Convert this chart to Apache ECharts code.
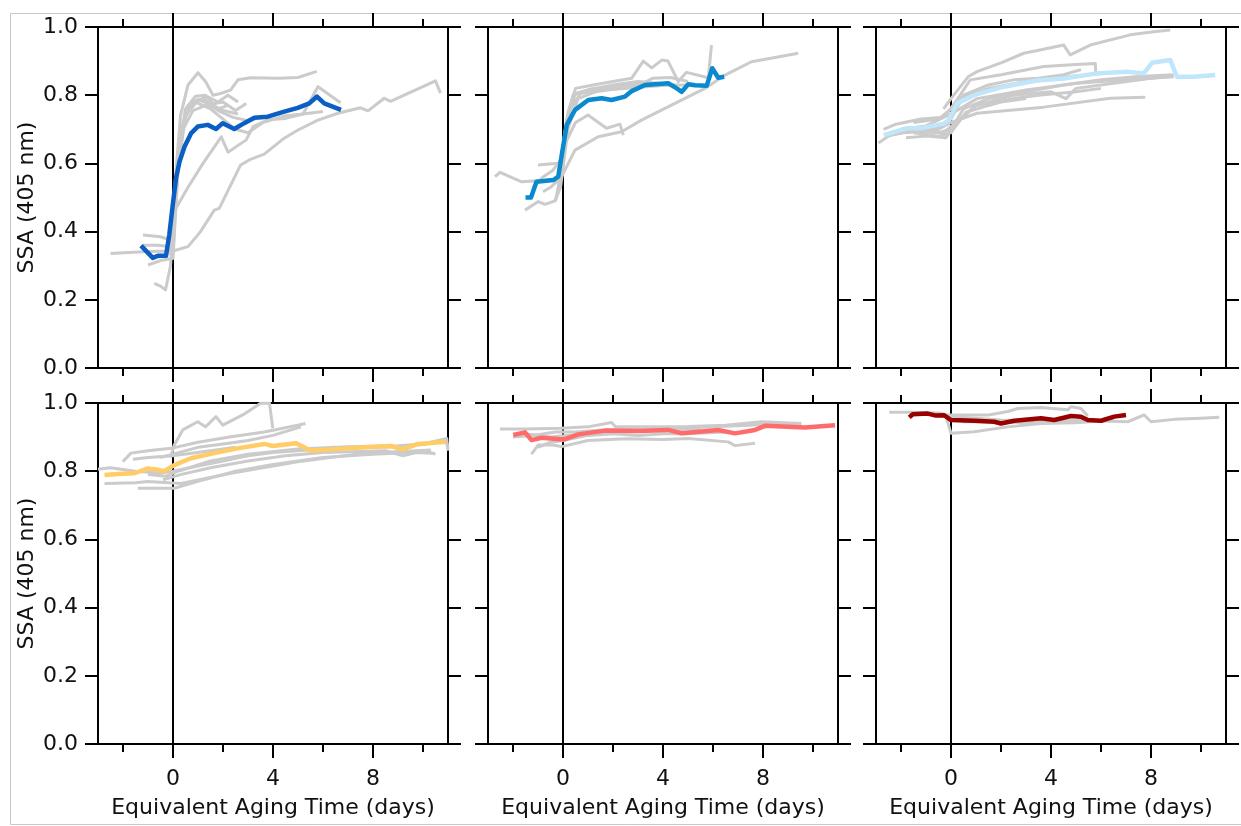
<!DOCTYPE html>
<html>
<head>
<meta charset="utf-8">
<script src="https://cdn.jsdelivr.net/npm/echarts@6/dist/echarts.min.js"></script>
<style>
html,body{margin:0;padding:0;background:#fff;}
#chart{width:1241px;height:826px;}
</style>
</head>
<body>
<div id="chart"></div>
<script>
// ---------- tick labels / axis texts ----------
var xMajorTicks = [0, 4, 8];
var xMinorTicks = [-2, 2, 6, 10];
var xTitle = 'Equivalent Aging Time (days)';
var yTitle = 'SSA (405 nm)';

// ---------- data: [days, SSA] ----------
var p1Main = [[-1.28,0.359],[-0.81,0.323],[-0.61,0.329],[-0.28,0.329],[-0.15,0.39],[-0.01,0.478],[0.12,0.556],[0.26,0.605],[0.46,0.649],[0.72,0.688],[0.99,0.708],[1.39,0.713],[1.72,0.701],[1.99,0.718],[2.45,0.701],[2.85,0.718],[3.25,0.734],[3.79,0.737],[4.45,0.752],[4.99,0.763],[5.45,0.776],[5.76,0.796],[6.05,0.776],[6.72,0.757]];
var p1Gray = [
 [[-2.5,0.336],[-1.0,0.342],[0,0.343],[0.6,0.356],[1.1,0.40],[1.65,0.463],[1.85,0.468],[2.7,0.595],[3.1,0.612],[3.65,0.627],[4.45,0.674],[5.0,0.698],[5.8,0.727],[6.6,0.747],[7.5,0.763],[7.8,0.754],[8.45,0.791],[8.7,0.782],[10.5,0.842],[10.7,0.806]],
 [[-0.1,0.34],[0.1,0.56],[0.3,0.74],[0.6,0.83],[1.0,0.866],[1.3,0.84],[1.6,0.80],[1.9,0.805],[2.3,0.815],[2.6,0.845],[3.1,0.851],[4.2,0.85],[5.0,0.852],[5.75,0.87]],
 [[-0.05,0.35],[0.2,0.62],[0.5,0.76],[0.9,0.797],[1.3,0.80],[1.6,0.775],[2.0,0.78],[2.5,0.755],[2.93,0.776]],
 [[0,0.34],[0.25,0.66],[0.6,0.77],[1.0,0.787],[1.4,0.775],[1.8,0.755],[2.4,0.735],[3.0,0.725],[3.3,0.73]],
 [[-0.1,0.33],[0.05,0.46],[0.6,0.53],[1.2,0.6],[1.93,0.678],[2.2,0.633],[2.93,0.669],[3.2,0.708],[3.8,0.728],[4.5,0.732],[5.2,0.745],[5.8,0.825],[6.7,0.778]],
 [[-1.2,0.39],[-0.5,0.385],[-0.1,0.375],[0.1,0.55],[0.4,0.72],[0.8,0.78],[1.2,0.79],[1.6,0.77],[2.0,0.755],[2.6,0.745]],
 [[-1.0,0.302],[-0.5,0.315],[0,0.322],[0.2,0.58],[0.5,0.74],[1.0,0.785],[1.4,0.795],[1.8,0.78],[2.2,0.80],[2.6,0.78]],
 [[-0.75,0.248],[-0.5,0.24],[-0.3,0.229],[-0.1,0.30],[0.1,0.52],[0.4,0.70],[0.8,0.755],[1.3,0.77],[1.8,0.76],[2.2,0.77]],
 [[-1.2,0.36],[-0.6,0.36],[0,0.355],[0.2,0.62],[0.5,0.75],[0.9,0.78],[1.5,0.76],[2.0,0.73],[2.5,0.70],[3.0,0.69],[3.6,0.72],[4.5,0.74],[5.2,0.745],[6.0,0.752]]
];

var p2Main = [[-1.5,0.50],[-1.28,0.50],[-1.06,0.546],[-0.39,0.551],[-0.19,0.561],[-0.05,0.625],[0.15,0.713],[0.48,0.757],[1.01,0.786],[1.55,0.791],[1.94,0.786],[2.48,0.796],[2.75,0.812],[3.28,0.83],[4.21,0.835],[4.55,0.82],[4.75,0.81],[5.01,0.832],[5.28,0.829],[5.75,0.828],[5.97,0.879],[6.21,0.851],[6.45,0.854]];
var p2Gray = [
 [[-2.72,0.561],[-2.52,0.574],[-1.65,0.546],[-0.6,0.551],[-0.1,0.555],[0.48,0.639],[1.41,0.678],[2.34,0.693],[3.14,0.727],[4.48,0.776],[5.68,0.82],[6.48,0.859],[7.54,0.898],[9.41,0.923]],
 [[-0.2,0.55],[0.1,0.66],[0.5,0.72],[1.0,0.742],[1.74,0.703],[2.28,0.715],[2.41,0.683]],
 [[-0.3,0.49],[0,0.6],[0.2,0.75],[0.5,0.82],[1.2,0.83],[2.0,0.84],[2.75,0.85],[3.21,0.90],[3.55,0.88],[3.95,0.903],[4.2,0.9],[4.61,0.84],[4.94,0.867],[5.81,0.851],[5.94,0.947]],
 [[-0.8,0.517],[-0.5,0.53],[-0.2,0.55],[0.1,0.70],[0.4,0.80],[1.0,0.815],[2.0,0.83],[3.0,0.84],[3.8,0.835],[4.5,0.83]],
 [[-1.0,0.595],[-0.3,0.60],[-0.1,0.60],[0.15,0.73],[0.5,0.805],[1.2,0.82],[2.2,0.826],[3.0,0.832],[3.6,0.828]],
 [[-1.52,0.463],[-0.99,0.488],[-0.72,0.48],[-0.32,0.49],[-0.1,0.53],[0.2,0.70],[0.6,0.79],[1.3,0.81],[2.3,0.82],[3.3,0.825],[4.3,0.83],[5.0,0.83]],
 [[-1.2,0.53],[-0.8,0.56],[-0.4,0.58],[0,0.62],[0.3,0.76],[0.7,0.805],[1.5,0.815],[2.5,0.82],[3.2,0.835],[3.6,0.85],[4.3,0.852],[5.0,0.84]]
];

var p3Main = [[-2.69,0.683],[-1.76,0.703],[-1.23,0.703],[-0.29,0.716],[-0.09,0.727],[0.24,0.776],[0.91,0.80],[2.11,0.825],[3.44,0.843],[4.51,0.849],[5.84,0.864],[7.04,0.869],[7.71,0.864],[8.04,0.895],[8.77,0.903],[9.04,0.854],[9.71,0.854],[10.57,0.859]];
var p3Gray = [
 [[-0.3,0.76],[0,0.79],[0.7,0.855],[1.04,0.869],[2.0,0.895],[2.91,0.923],[3.7,0.935],[4.51,0.947],[4.77,0.918],[5.57,0.947],[7.17,0.977],[8.11,0.986],[8.77,0.991]],
 [[-1.5,0.72],[-0.5,0.73],[0,0.76],[0.77,0.845],[2.0,0.86],[3.71,0.884],[5.0,0.89],[5.77,0.893],[5.8,0.86]],
 [[-2.0,0.70],[-1,0.71],[0,0.745],[1.04,0.79],[3.0,0.815],[5.04,0.835],[7.0,0.845],[8.91,0.854]],
 [[-1.8,0.69],[-0.5,0.70],[0,0.72],[1.04,0.747],[3.71,0.765],[6.37,0.791],[7.77,0.794]],
 [[-2.9,0.66],[-2.5,0.68],[-1.5,0.70],[-0.3,0.69],[0.2,0.72],[1.0,0.77],[2.5,0.80],[4.0,0.81],[4.6,0.79],[5.0,0.82],[6.5,0.835],[8.0,0.85],[8.8,0.855]],
 [[-2.7,0.70],[-2.2,0.715],[-1.2,0.73],[-0.3,0.735],[0.3,0.79],[1.5,0.82],[3.0,0.84],[4.0,0.85],[5.5,0.86],[7.0,0.87]],
 [[-2.3,0.685],[-1.5,0.695],[-0.5,0.69],[0,0.70],[0.5,0.76],[1.5,0.79],[3.0,0.81],[4.5,0.83],[6.0,0.845],[7.5,0.855],[8.9,0.86]],
 [[-1.8,0.675],[-1,0.68],[-0.2,0.675],[0.1,0.71],[1.0,0.77],[2.5,0.79],[3.5,0.80],[5.0,0.81],[6.0,0.82]],
 [[-1.5,0.69],[-0.5,0.68],[0,0.69],[0.6,0.75],[1.5,0.77],[2.0,0.78],[3.0,0.79]],
 [[-1.0,0.70],[-0.3,0.71],[0,0.73],[0.5,0.80],[1.5,0.83],[2.5,0.845],[3.5,0.85],[4.5,0.86],[5.2,0.875]]
];

var p4Main = [[-2.74,0.789],[-2.21,0.792],[-1.54,0.794],[-1.01,0.808],[-0.61,0.804],[-0.35,0.80],[0.05,0.818],[0.72,0.838],[1.65,0.853],[2.59,0.867],[3.65,0.88],[3.99,0.874],[4.92,0.882],[5.52,0.86],[6.32,0.864],[7.65,0.87],[8.72,0.874],[9.19,0.864],[9.79,0.88],[10.92,0.886]];
var p4Gray = [
 [[-0.1,0.84],[0.05,0.877],[0.39,0.921],[0.99,0.945],[1.3,0.93],[1.72,0.96],[1.99,0.935],[2.79,0.965],[3.52,1.0],[3.86,0.999],[3.99,0.926]],
 [[-3.0,0.806],[-2.5,0.81],[-1.5,0.80],[-0.5,0.795],[0,0.80],[1,0.815],[2,0.83],[3,0.845],[4,0.855],[5,0.86],[6,0.865],[7,0.868],[8,0.87],[9,0.872],[10,0.878],[10.9,0.89],[11,0.87]],
 [[-2.01,0.828],[-1.68,0.853],[-1.0,0.86],[-0.08,0.867],[1.0,0.885],[2.32,0.901],[3.65,0.915],[4.99,0.935],[5.3,0.94]],
 [[-0.5,0.84],[0,0.85],[1.0,0.87],[2.0,0.88],[3.0,0.89],[4.0,0.905],[5.12,0.93]],
 [[-2.74,0.764],[-1.5,0.766],[-1.01,0.77],[0.32,0.764],[2.32,0.794],[4.99,0.828],[7.65,0.853],[10.32,0.862]],
 [[-1.41,0.75],[-0.5,0.75],[0.05,0.75],[1.0,0.77],[2.5,0.80],[4.0,0.82],[6.0,0.84],[8.0,0.85],[9.5,0.855],[10.45,0.853]],
 [[-1.0,0.79],[-0.3,0.785],[0.2,0.80],[1.5,0.83],[3.0,0.85],[5.0,0.865],[7.0,0.872],[9.0,0.875],[10.0,0.88],[10.95,0.896],[11.0,0.86]],
 [[-0.4,0.775],[0.3,0.79],[1.5,0.81],[3.0,0.83],[4.5,0.845],[6.0,0.855],[8.5,0.86],[9.2,0.845],[10.0,0.86],[10.5,0.85]],
 [[-1.6,0.835],[-1.0,0.84],[0,0.845],[1.5,0.86],[2.5,0.87]]
];

var p5Main = [[-1.99,0.906],[-1.52,0.914],[-1.26,0.891],[-0.86,0.898],[-0.12,0.894],[0.08,0.894],[0.61,0.908],[1.68,0.919],[3.01,0.918],[4.21,0.921],[4.75,0.911],[6.21,0.921],[6.88,0.911],[7.68,0.921],[8.08,0.933],[9.68,0.928],[10.88,0.935]];
var p5Gray = [
 [[-2.52,0.924],[-1.5,0.924],[-0.12,0.926],[1.0,0.93],[1.94,0.943],[2.1,0.93],[3.5,0.93],[5.01,0.931],[6.5,0.935],[7.94,0.945],[9.54,0.94]],
 [[-1.26,0.85],[-0.99,0.877],[-0.4,0.877],[-0.05,0.872],[1.0,0.89],[2.5,0.895],[4.0,0.893],[5.01,0.896],[6.61,0.886],[6.88,0.875],[7.68,0.882]],
 [[-2.0,0.90],[-1.2,0.905],[-0.3,0.915],[0.5,0.915],[1.5,0.92],[3.0,0.925],[4.5,0.925],[6.0,0.93],[7.5,0.935],[8.5,0.94],[9.5,0.935]],
 [[-1.0,0.87],[-0.5,0.885],[0,0.89],[1.0,0.905],[2.0,0.91],[3.0,0.905],[4.0,0.91],[5.0,0.91],[6.5,0.915]],
 [[-1.5,0.91],[-0.5,0.90],[0.2,0.905],[1.0,0.91],[2.5,0.915],[4.0,0.92],[5.5,0.925]]
];

var p6Main = [[-1.67,0.958],[-1.53,0.967],[-0.93,0.969],[-0.6,0.963],[-0.27,0.964],[0,0.95],[0.93,0.948],[1.73,0.945],[2.0,0.94],[2.53,0.948],[3.6,0.955],[4.13,0.95],[4.8,0.962],[5.2,0.96],[5.47,0.95],[6.0,0.948],[6.53,0.96],[7.0,0.965]];
var p6Gray = [
 [[-2.47,0.973],[-1.5,0.973],[-0.4,0.97],[0,0.96],[1.0,0.955],[2.0,0.95],[3.0,0.948],[4.0,0.947],[5.0,0.948],[6.0,0.947],[7.07,0.945],[7.73,0.965],[8.0,0.945],[8.93,0.952],[10.0,0.955],[10.73,0.958]],
 [[-0.3,0.965],[0.5,0.965],[1.5,0.965],[2.27,0.975],[2.67,0.984],[3.6,0.987],[4.67,0.98],[4.8,0.989],[5.2,0.984],[5.47,0.962]],
 [[-0.2,0.96],[0,0.911],[0.93,0.916],[2.27,0.93],[3.6,0.94],[5.2,0.95],[5.5,0.955]],
 [[-1.5,0.97],[-0.5,0.965],[0.5,0.945],[2.0,0.945],[3.5,0.94],[5,0.942],[6.5,0.95]]
];

var zeroLine = [[0,0],[0,1]];

// ---------- layout & styles ----------
var panels = [
 {gray:p1Gray, main:p1Main, color:'#0b5fc4', left:98,  top:27},
 {gray:p2Gray, main:p2Main, color:'#0a89cf', left:488, top:27},
 {gray:p3Gray, main:p3Main, color:'#bfe6fb', left:876, top:27},
 {gray:p4Gray, main:p4Main, color:'#ffcc66', left:98,  top:403},
 {gray:p5Gray, main:p5Main, color:'#ff6b6b', left:488, top:403},
 {gray:p6Gray, main:p6Main, color:'#990000', left:876, top:403}
];
var FONT = 'DejaVu Sans';
var FS = 22;
var TXT = '#111111';
var grids = [], xAxes = [], yAxes = [], series = [];

panels.forEach(function (p, g) {
  var showX = g >= 3, showY = (g % 3) === 0;
  grids.push({left:p.left, top:p.top, width:350, height:341, outerBoundsMode:'none', containLabel:false});
  function xa(pos, ticks, len, main) {
    return {
      gridIndex:g, type:'value', min:-3, max:11, position:pos,
      axisLine:{show:main, onZero:false, lineStyle:{color:'#000', width:2}},
      axisTick:{show:true, inside:false, length:len, customValues:ticks, lineStyle:{color:'#000', width:2}},
      axisLabel:{show:(main && pos === 'bottom' && showX), customValues:ticks, margin:24,
                 fontSize:FS, fontFamily:FONT, color:TXT},
      splitLine:{show:false},
      name:(main && pos === 'bottom' && showX) ? xTitle : '',
      nameLocation:'middle', nameGap:53,
      nameTextStyle:{fontSize:FS, fontFamily:FONT, color:TXT}
    };
  }
  xAxes.push(xa('bottom', xMajorTicks, 14, true));
  xAxes.push(xa('bottom', xMinorTicks, 8, false));
  xAxes.push(xa('top', xMajorTicks, 14, true));
  xAxes.push(xa('top', xMinorTicks, 8, false));
  function ya(pos) {
    return {
      gridIndex:g, type:'value', min:0, max:1, interval:0.2, position:pos,
      axisLine:{show:true, onZero:false, lineStyle:{color:'#000', width:2}},
      axisTick:{show:true, inside:false, length:13, lineStyle:{color:'#000', width:2}},
      axisLabel:{show:(pos === 'left' && showY), margin:20, fontSize:FS, fontFamily:FONT, color:TXT,
                 formatter:function (v) { return v.toFixed(1); }},
      splitLine:{show:false},
      name:(pos === 'left' && showY) ? yTitle : '',
      nameLocation:'middle', nameGap:60,
      nameTextStyle:{fontSize:FS, fontFamily:FONT, color:TXT}
    };
  }
  yAxes.push(ya('left'));
  yAxes.push(ya('right'));
  var xi = g * 4, yi = g * 2;
  series.push({type:'line', xAxisIndex:xi, yAxisIndex:yi, data:zeroLine, symbol:'none', silent:true,
               lineStyle:{color:'#000', width:2}, animation:false});
  p.gray.forEach(function (d) {
    series.push({type:'line', xAxisIndex:xi, yAxisIndex:yi, data:d, symbol:'none', silent:true,
                 lineStyle:{color:'#cbcbcb', width:3, join:'round'}, animation:false});
  });
  series.push({type:'line', xAxisIndex:xi, yAxisIndex:yi, data:p.main, symbol:'none', silent:true,
               lineStyle:{color:p.color, width:4.5, join:'round'}, animation:false});
});

var chart = echarts.init(document.getElementById('chart'), null, {renderer:'canvas'});
chart.setOption({
  backgroundColor:'#ffffff',
  animation:false,
  grid:grids, xAxis:xAxes, yAxis:yAxes, series:series,
  graphic:[{type:'rect', silent:true, z:-1,
            shape:{x:10.5, y:13.5, width:1240, height:811},
            style:{fill:'none', stroke:'#c8c8c8', lineWidth:1}}]
});
</script>
</body>
</html>
